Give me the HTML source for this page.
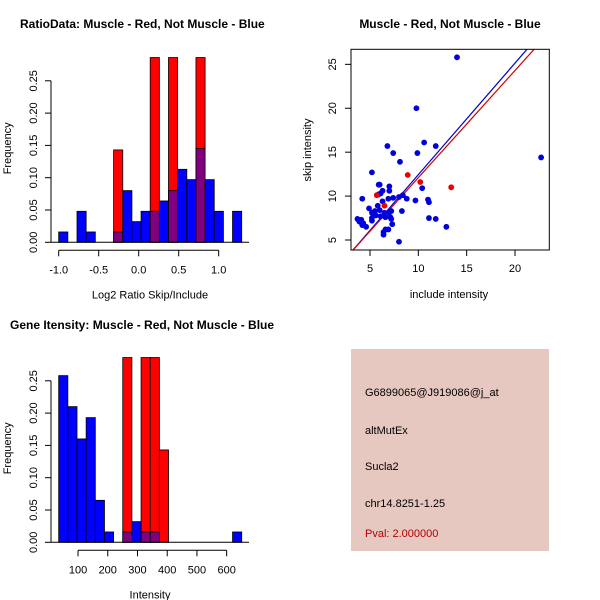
<!DOCTYPE html>
<html><head><meta charset="utf-8"><style>
body{margin:0;background:#fff}
svg{display:block;font-family:"Liberation Sans",sans-serif}
</style></head><body>
<svg id="s" width="600" height="600" xmlns="http://www.w3.org/2000/svg">
<text x="20" y="28" font-size="12" font-weight="bold">RatioData: Muscle - Red, Not Muscle - Blue</text>
<text x="450" y="28" font-size="12" font-weight="bold" text-anchor="middle">Muscle - Red, Not Muscle - Blue</text>
<text x="10" y="329" font-size="12" font-weight="bold">Gene Itensity: Muscle - Red, Not Muscle - Blue</text>
<rect x="351" y="349" width="198" height="202" fill="#e6c8c0"/>
<g font-size="11">
<text x="365" y="396">G6899065@J919086@j_at</text>
<text x="365" y="434">altMutEx</text>
<text x="365" y="470">Sucla2</text>
<text x="365" y="507">chr14.8251-1.25</text>
<text x="365" y="537" fill="#b00000">Pval: 2.000000</text>
</g>
</svg>
<script>
// Ratio histogram data (20 bins)
const ratioBlue=[0.016,0,0.048,0.016,0,0,0.016,0.08,0.032,0.048,0.048,0.064,0.08,0.113,0.097,0.145,0.097,0.048,0,0.048];
const ratioRed=[0,0,0,0,0,0,0.143,0,0,0,0.286,0,0.286,0,0,0.286,0,0,0,0];
const ratioXTicks=[-1.0,-0.5,0.0,0.5,1.0];
const ratioXLabels=["-1.0","-0.5","0.0","0.5","1.0"];
// Intensity histogram data
const intBlue=[0.258,0.21,0.16,0.193,0.065,0.016,0,0.016,0.032,0.016,0.016,0,0,0,0,0,0,0,0,0.016];
const intRed=[0,0,0,0,0,0,0,0.286,0,0.286,0.286,0.143,0,0,0,0,0,0,0,0];
const intXTicks=[100,200,300,400,500,600];
const freqTicks=[0,0.05,0.10,0.15,0.20,0.25];
const freqLabels=["0.00","0.05","0.10","0.15","0.20","0.25"];
// Scatter data
const blueX=[14,9.8,22.7,6.8,7.4,9.9,10.6,11.8,8.1,5.2,5.9,6,7,10.4,4.2,5.9,6.1,6.3,7,6.9,7.4,8,8.4,8.8,9.7,11,11.1,4.9,5.2,5.5,5.8,6,6.3,6.5,7,7.2,5.2,5.6,6.1,6.6,7,7.1,7.2,3.8,3.9,4.1,4.3,4.2,4.6,7.3,6.4,6.4,6.9,8,8.3,11.1,11.8,12.9,3.7,5.2,6.6];
const blueY=[25.8,20,14.4,15.7,14.9,14.9,16.1,15.7,13.9,12.7,11.3,11.3,11.1,10.9,9.7,10.2,10.3,10.6,10.6,9.7,9.8,9.9,10.1,9.7,9.5,9.6,9.3,8.6,8.1,8.3,8.9,8.4,9.4,8.1,8.2,8.3,7.5,7.8,7.7,7.6,7.7,7.6,7.4,7.3,7.1,7.3,6.9,6.7,6.5,6.8,5.9,5.6,6.2,4.8,8.3,7.5,7.4,6.5,7.4,7.2,6.2];
const redX=[5.7,6.5,8.9,10.2,13.4];
const redY=[10.1,8.9,12.4,11.6,11];
const scXTicks=[5,10,15,20];
const scYTicks=[5,10,15,20,25];
const blueLine=[-0.26,1.27];
const redLine=[-0.1,1.22];

const svg=document.getElementById('s');
const NS='http://www.w3.org/2000/svg';
function el(t,a,p){const e=document.createElementNS(NS,t);for(const k in a)e.setAttribute(k,a[k]);(p||svg).appendChild(e);return e;}

function hist(name,top0,x0val,bw,xs,blue,red,xt,xl,xlabel){
  const y=v=>top0-v*646; const x=v=>58.7+(v-x0val)*xs;
  const g=el('g',{});
  
  
  for(let i=0;i<blue.length;i++){
    const l=x(x0val+i*bw), w=bw*xs;
    const b=blue[i], r=red[i];
    if(r>0){const e=el('rect',{x:l,y:y(r),width:w,height:y(0)-y(r),fill:'#ff0000',stroke:'#000','stroke-width':0.8},g);
      
      }
    if(b>0){const e=el('rect',{x:l,y:y(b),width:w,height:y(0)-y(b),fill:(r>0?'#800080':'#0000ff'),stroke:'#000','stroke-width':0.8},g);
      
      }
  }
  el('line',{x1:51,x2:51,y1:y(0),y2:y(0.25),stroke:'#000'},g);
  freqTicks.forEach((t,i)=>{el('line',{x1:45,x2:51,y1:y(t),y2:y(t),stroke:'#000'},g);
    const tx=el('text',{x:0,y:0,'font-size':11,'text-anchor':'middle',transform:`translate(37,${y(t)}) rotate(-90)`},g);tx.textContent=freqLabels[i];
    
    });
  const yl=el('text',{x:0,y:0,'font-size':11,'text-anchor':'middle',transform:`translate(11,${top0-94}) rotate(-90)`},g);yl.textContent='Frequency';
  
  
  const ay=top0+8;
  el('line',{x1:x(xt[0]),x2:x(xt[xt.length-1]),y1:ay,y2:ay,stroke:'#000'},g);
  xt.forEach((t,i)=>{el('line',{x1:x(t),x2:x(t),y1:ay,y2:ay+6,stroke:'#000'},g);
    const tx=el('text',{x:x(t),y:ay+23,'font-size':11,'text-anchor':'middle'},g);tx.textContent=xl[i];
    
    });
  el('line',{x1:51,x2:249,y1:top0,y2:top0,stroke:'#000'},g);
  const xlab=el('text',{x:150,y:top0+56,'font-size':11,'text-anchor':'middle'},g);xlab.textContent=xlabel;
  
  
}
hist('ratio-histogram',242.3,-1.0,0.114375,80,ratioBlue,ratioRed,ratioXTicks,ratioXLabels,'Log2 Ratio Skip/Include');
hist('intensity-histogram',542.3,35,30.78,0.2973,intBlue,intRed,intXTicks,intXTicks.map(String),'Intensity');

(function(){
  const X=v=>370+(v-5)*9.667, Y=v=>240-(v-5)*8.783;
  const g=el('g',{});
  
  
  el('clipPath',{id:'cp'},g);
  el('rect',{x:351,y:49.3,width:198.3,height:200.7},document.getElementById('cp'));
  const lines=el('g',{'clip-path':'url(#cp)'},g);
  [[blueLine,'#0000cc'],[redLine,'#cc0000']].forEach(([c,col])=>{
    const a=c[0],b=c[1];const e=el('line',{x1:X(2),y1:Y(a+b*2),x2:X(25),y2:Y(a+b*25),stroke:col,'stroke-width':1.2},lines);
    
    });
  blueX.forEach((v,i)=>{const e=el('circle',{cx:X(v),cy:Y(blueY[i]),r:2.9,fill:'#0000dd'},g);
    
    });
  redX.forEach((v,i)=>{const e=el('circle',{cx:X(v),cy:Y(redY[i]),r:2.9,fill:'#ee0000'},g);
    
    });
  el('rect',{x:351,y:49.3,width:198.3,height:200.7,fill:'none',stroke:'#000'},g);
  scXTicks.forEach(t=>{el('line',{x1:X(t),x2:X(t),y1:250,y2:256,stroke:'#000'},g);
    const tx=el('text',{x:X(t),y:272,'font-size':11,'text-anchor':'middle'},g);tx.textContent=t;
    
    });
  scYTicks.forEach(t=>{el('line',{x1:345,x2:351,y1:Y(t),y2:Y(t),stroke:'#000'},g);
    const tx=el('text',{x:0,y:0,'font-size':11,'text-anchor':'middle',transform:`translate(336,${Y(t)}) rotate(-90)`},g);tx.textContent=t;
    
    });
  const xl=el('text',{x:449,y:298,'font-size':11,'text-anchor':'middle'},g);xl.textContent='include intensity';
  
  
  const yl=el('text',{x:0,y:0,'font-size':11,'text-anchor':'middle',transform:'translate(311,150) rotate(-90)'},g);yl.textContent='skip intensity';
  
  
})();
</script>
</body></html>
